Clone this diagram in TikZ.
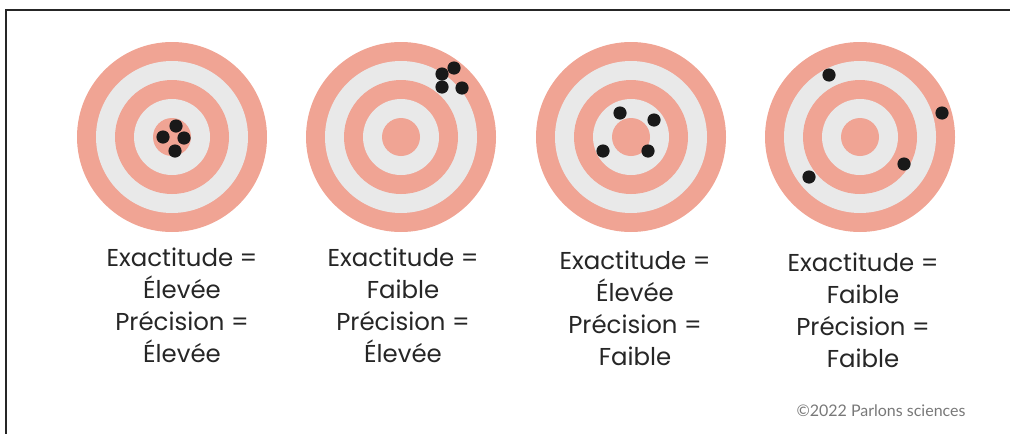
\documentclass[tikz,border=0pt]{standalone}
\usepackage{fontspec}
\setmainfont{Poppins}
\newfontfamily\notefont{Lato}
\definecolor{tgsalmon}{RGB}{240,164,148}
\definecolor{tggrey}{RGB}{233,233,233}
\definecolor{tgdark}{RGB}{25,25,25}
\definecolor{tgnote}{RGB}{120,120,120}
\tikzset{
tgring/.style={fill=tgsalmon},
tggap/.style={fill=tggrey},
tghit/.style={fill=tgdark},
tglabel/.style={align=center,anchor=north,inner sep=0pt,text=black!85,font=\fontsize{13.9}{18.2}\selectfont},
tgnote/.style={inner sep=0pt,text=tgnote,font=\notefont\fontsize{9.1}{10}\selectfont},
tgframe/.style={draw=black!85,line width=1.1pt}
}
\begin{document}
\begin{tikzpicture}[x=0.02cm,y=-0.02cm]
\useasboundingbox (0,0) rectangle (1010,433);
\draw[tgframe] (6,440) -- (6,10) -- (1015,10);
\foreach \cx/\nm in {172/a,401/b,631/c,860/d}{
  \coordinate (ctr\nm) at (\cx,137);
  \foreach \r/\st in {95/tgring,76/tggap,57/tgring,38/tggap,19/tgring}
    \fill[\st] (ctr\nm) circle[radius=\r*0.02cm];
}
\foreach \px/\py in {176/126,163/137,184/138,175/151,
                     454/68,442/74,442/87,462/88,
                     620/113,654/120,603/151,648/151,
                     829/75,942/113,904/164,809/177}
  \fill[tghit] (\px,\py) circle[radius=6.6*0.02cm];
\node[tglabel] (laba) at (182,248) {Exactitude =\\ Élevée\\ Précision =\\ Élevée};
\node[tglabel] (labb) at (403,248) {Exactitude =\\ Faible\\ Précision =\\ Élevée};
\node[tglabel] (labc) at (635,251) {Exactitude =\\ Élevée\\ Précision =\\ Faible};
\node[tglabel] (labd) at (863,253) {Exactitude =\\ Faible\\ Précision =\\ Faible};
\node[tgnote] (credit) at (881,411) {©2022 Parlons sciences};
\end{tikzpicture}
\end{document}
